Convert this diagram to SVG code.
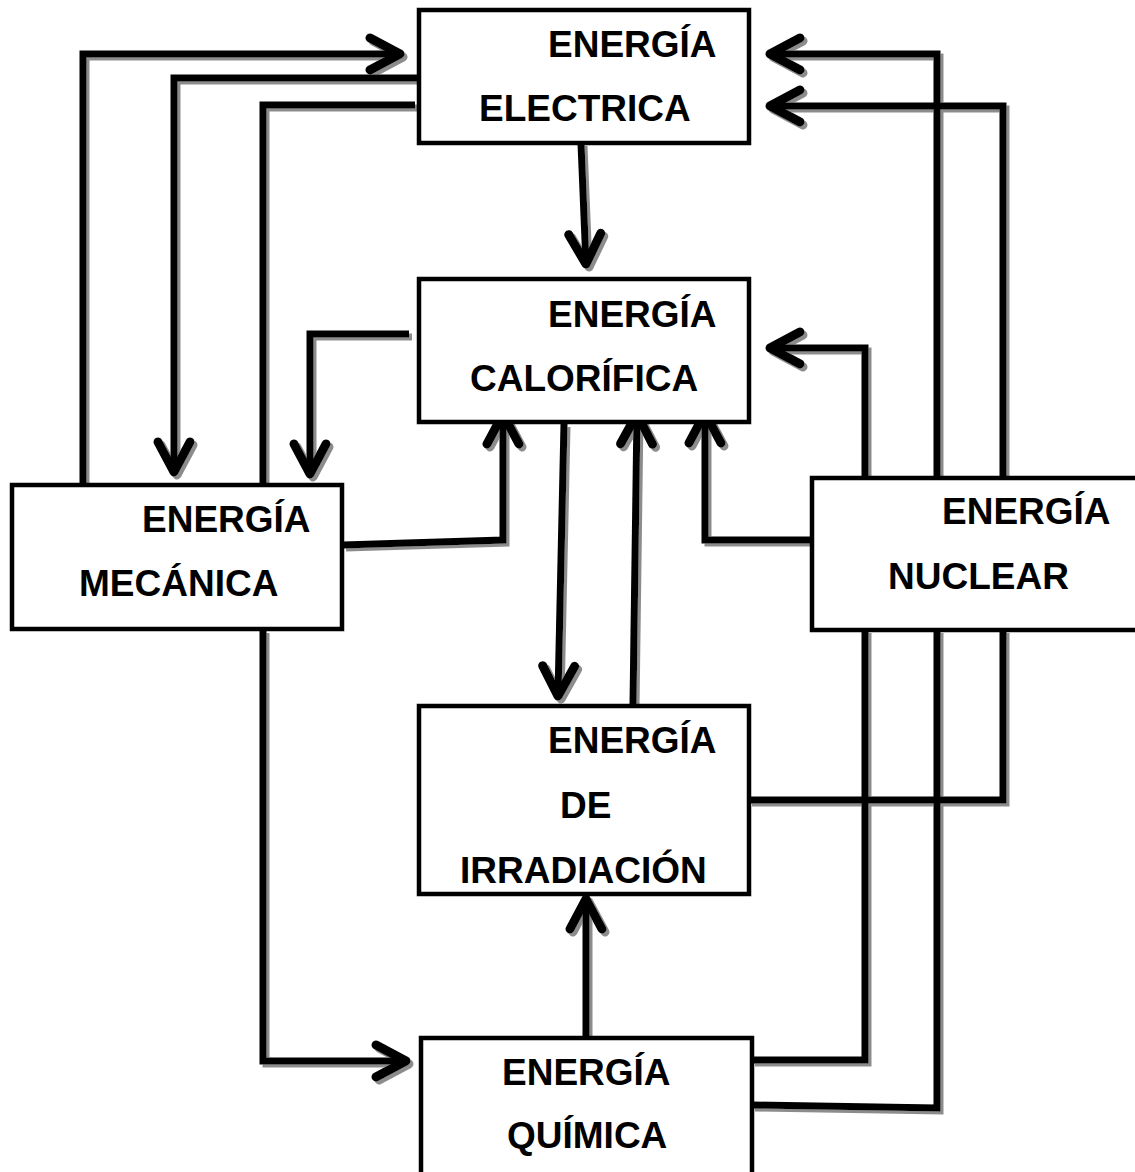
<svg xmlns="http://www.w3.org/2000/svg" xmlns:xlink="http://www.w3.org/1999/xlink" width="1135" height="1172" viewBox="0 0 1135 1172">
<style>
.box{fill:#fff;stroke:#000;stroke-width:4.5}
.t{font-family:"Liberation Sans",Arial,sans-serif;font-weight:bold;font-size:37px;fill:#000}
.c{fill:none;stroke:#000;stroke-width:7;stroke-linejoin:miter}
.a{marker-end:url(#ah)}
</style>
<defs>
<marker id="ah" markerUnits="userSpaceOnUse" markerWidth="60" markerHeight="60" viewBox="-45 -30 60 60" refX="0" refY="0" orient="auto" overflow="visible">
<path d="M-30,-16 L0,0 L-30,16" fill="none" stroke="#000" stroke-width="9" stroke-linecap="round" stroke-linejoin="round"/>
</marker>
<filter id="sh" x="-10%" y="-10%" width="120%" height="120%">
<feDropShadow dx="3" dy="3" stdDeviation="0.6" flood-color="#8c8c8c" flood-opacity="1"/>
</filter>
</defs>
<rect width="1135" height="1172" fill="#fff"/>
<g id="connectors" filter="url(#sh)">
<path class="c a" d="M83,486 V54 H400"/>
<path class="c a" d="M418,78 H174 V472"/>
<path class="c" d="M415,105 H263 V486"/>
<path class="c a" d="M581,143 L586,264"/>
<path class="c a" d="M409,334 H310 V474"/>
<path class="c a" d="M343,545 L503,540 V414"/>
<path class="c a" d="M564,424 L558,696"/>
<path class="c a" d="M633,705 L637,414"/>
<path class="c a" d="M812,540 H705 V413"/>
<path class="c a" d="M865,478 V348 H770"/>
<path class="c a" d="M937,478 V54 H770"/>
<path class="c a" d="M1003,478 V106 H770"/>
<path class="c a" d="M263,630 V1061 H406"/>
<path class="c a" d="M586,1037 V899"/>
<path class="c" d="M752,1060 H865 V630"/>
<path class="c" d="M752,1105 L937,1108 V630"/>
<path class="c" d="M749,800 H1003 V630"/>
</g>
<g id="electrica">
<rect class="box" x="419" y="10" width="330" height="133"/>
<text class="t" x="548" y="57">ENERGÍA</text>
<text class="t" x="479" y="121">ELECTRICA</text>
</g>
<g id="calorifica">
<rect class="box" x="419" y="279" width="330" height="143"/>
<text class="t" x="548" y="327">ENERGÍA</text>
<text class="t" x="470" y="391">CALORÍFICA</text>
</g>
<g id="mecanica">
<rect class="box" x="12" y="485" width="330" height="144"/>
<text class="t" x="142" y="532">ENERGÍA</text>
<text class="t" x="79" y="596">MECÁNICA</text>
</g>
<g id="nuclear">
<rect class="box" x="812" y="478" width="340" height="152"/>
<text class="t" x="942" y="524">ENERGÍA</text>
<text class="t" x="888" y="589">NUCLEAR</text>
</g>
<g id="irradiacion">
<rect class="box" x="419" y="706" width="330" height="188"/>
<text class="t" x="548" y="753">ENERGÍA</text>
<text class="t" x="560" y="818">DE</text>
<text class="t" x="460" y="883">IRRADIACIÓN</text>
</g>
<g id="quimica">
<rect class="box" x="421" y="1038" width="331" height="160"/>
<text class="t" x="502" y="1085">ENERGÍA</text>
<text class="t" x="507" y="1148">QUÍMICA</text>
</g>
</svg>
